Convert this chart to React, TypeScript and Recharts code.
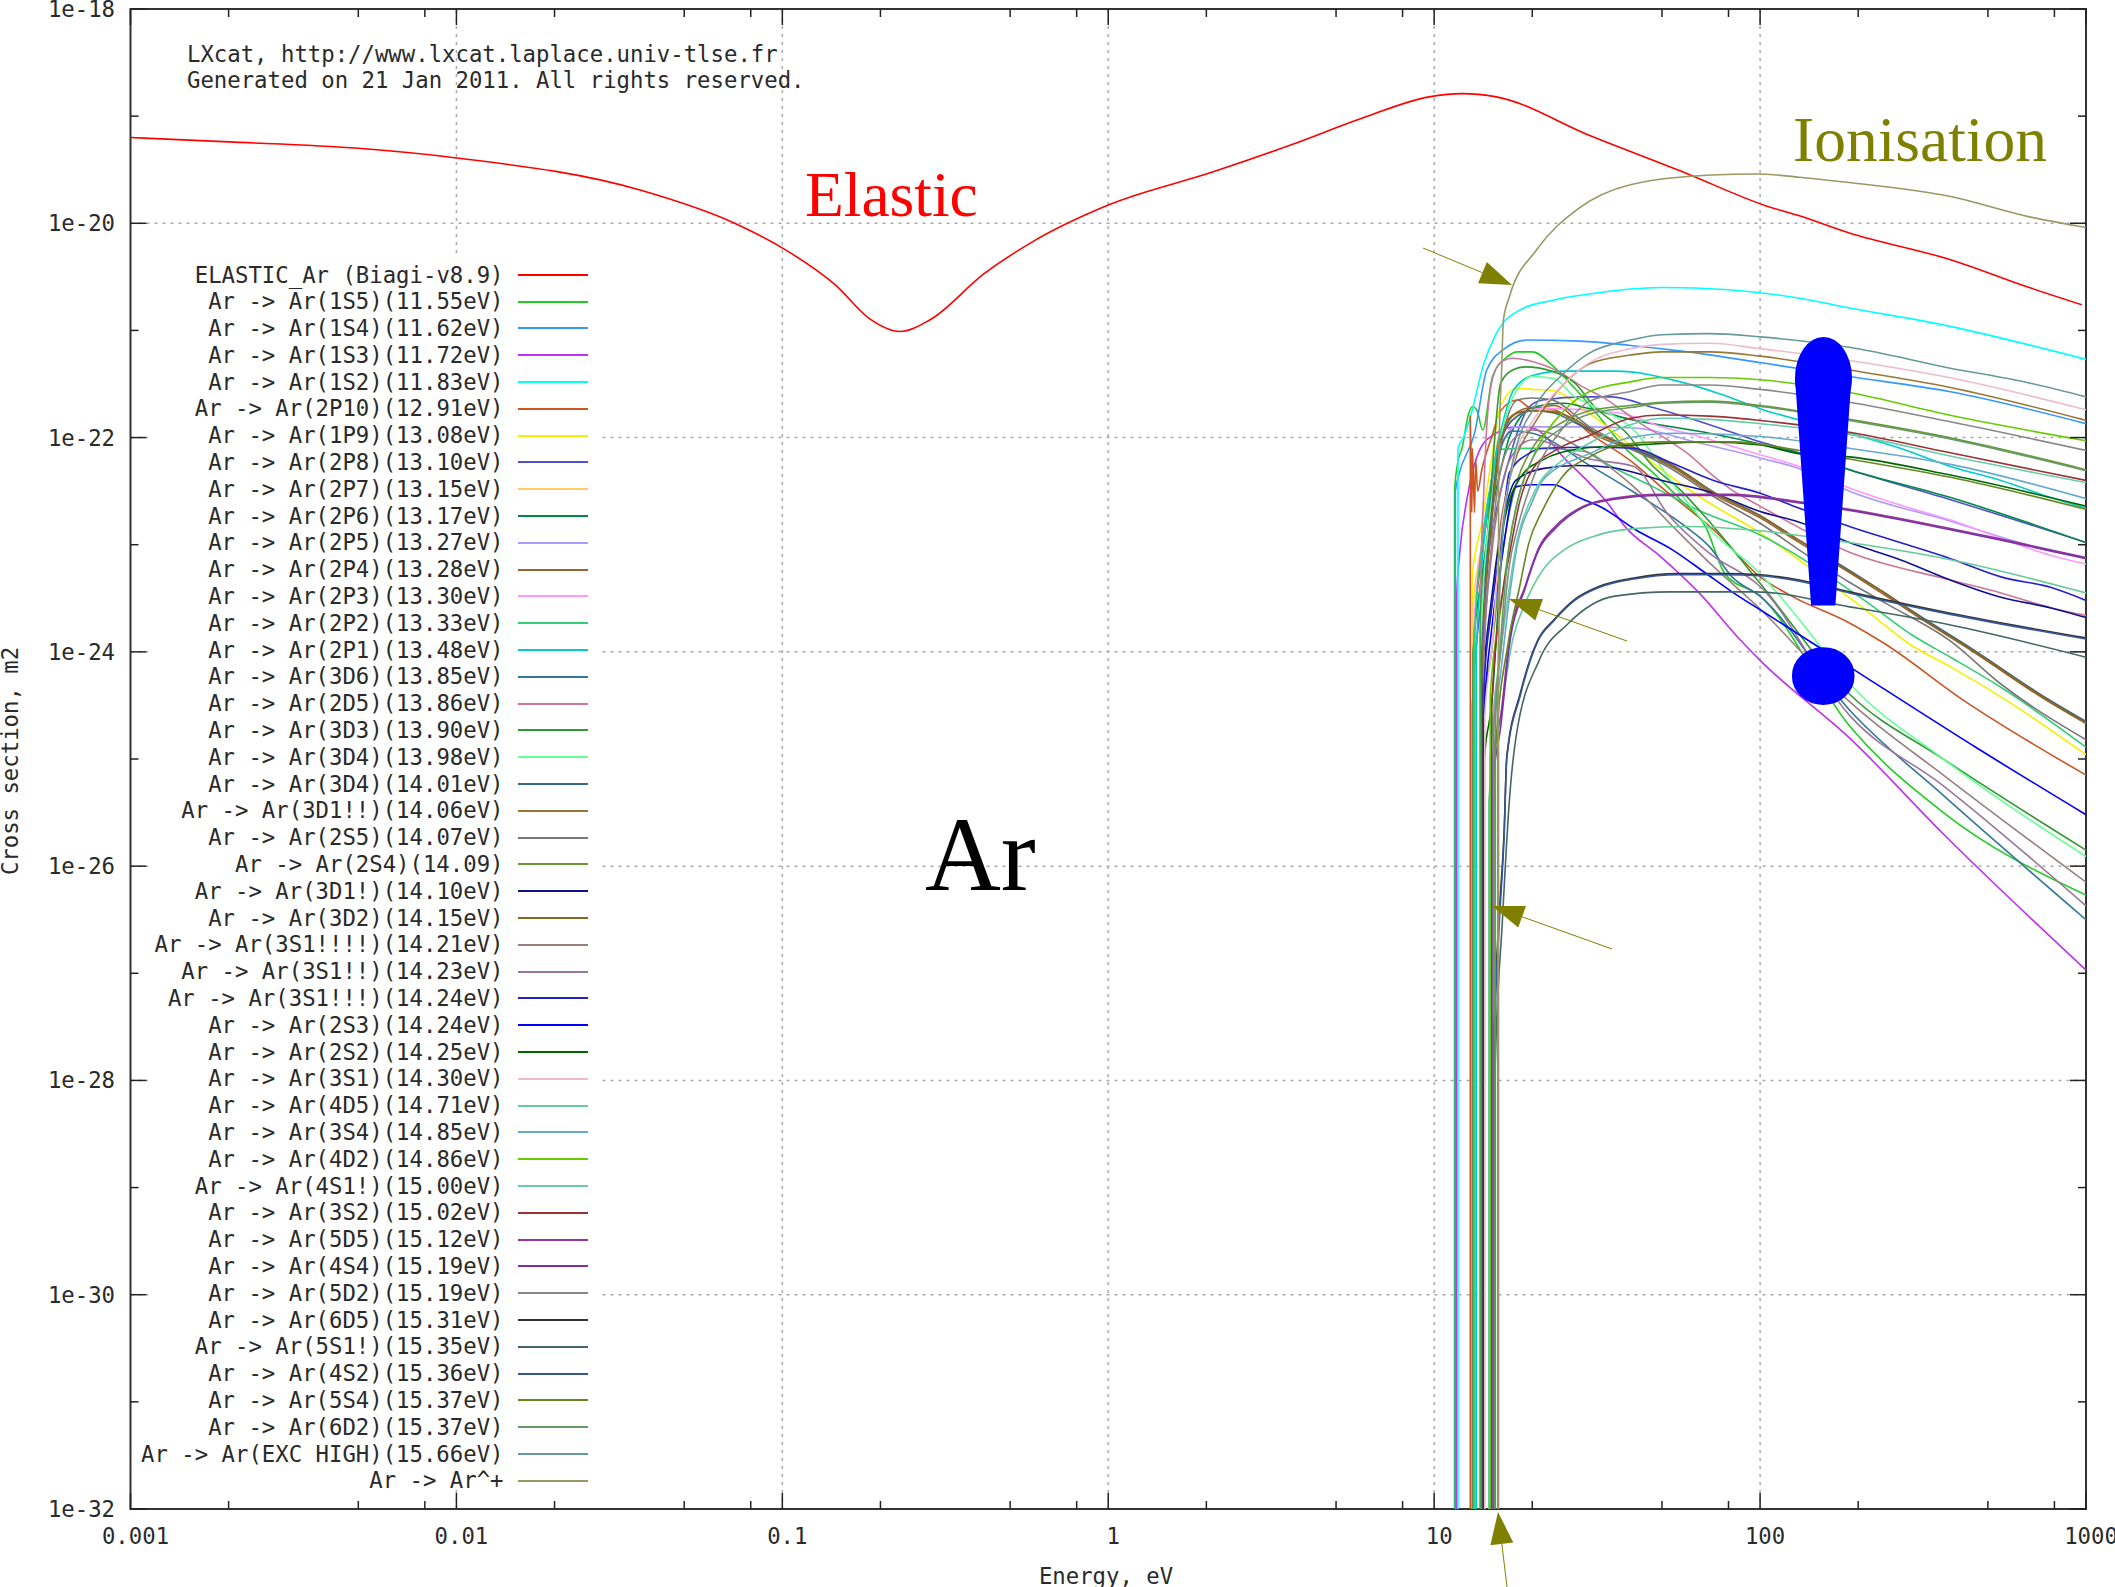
import React from 'react';
import { LineChart, Line, XAxis, YAxis, Legend, ReferenceLine, ReferenceArea } from 'recharts';

type Row = number[]; // [energy eV, log10 of cross section m2]

const MONO = '"DejaVu Sans Mono", monospace';
const SERIF = '"Liberation Serif", serif';
const TEXT = '#2a2a2a';
const MONO_SIZE = 22.3;

const xTicks = [0.001, 0.002, 0.005, 0.008, 0.01, 0.02, 0.05, 0.08, 0.1, 0.2, 0.5, 0.8, 1, 2, 5, 8, 10, 20, 50, 80, 100, 200, 500, 800, 1000];
const xMajor = [0.001, 0.01, 0.1, 1, 10, 100, 1000];
const yTicks = [1e-32, 1e-31, 1e-30, 1e-29, 1e-28, 1e-27, 1e-26, 1e-25, 1e-24, 1e-23, 1e-22, 1e-21, 1e-20, 1e-19, 1e-18];
const yMajor = [1e-32, 1e-30, 1e-28, 1e-26, 1e-24, 1e-22, 1e-20, 1e-18];

const elastic: Row[] = [[0.001, -19.2], [0.002, -19.24], [0.005, -19.3], [0.01, -19.39], [0.0366, -19.69], [0.0714, -20], [0.1026, -20.25], [0.146, -20.58], [0.185, -20.89], [0.23, -21.01], [0.284, -20.9], [0.416, -20.47], [0.58, -20.18], [1, -19.83], [2.1, -19.52], [3.7, -19.26], [6, -19.02], [9.66, -18.82], [12.2, -18.79], [15.5, -18.82], [30, -19.18], [59, -19.53], [105, -19.84], [132, -19.93], [188, -20.09], [384, -20.34], [670, -20.6], [970, -20.76]];
const s1S5: Row[] = [[11.55, -32], [11.55, -22.5], [11.8, -22.24], [12.2, -22.09], [12.7, -21.8], [13.1, -21.71], [13.5, -21.74], [14.1, -21.93], [15.1, -21.43], [16.7, -21.25], [18, -21.2], [20, -21.2], [23.3, -21.34], [27, -21.54], [31.4, -21.77], [38, -22.08], [47, -22.33], [57, -22.58], [68, -22.83], [78, -23.27], [100, -23.48], [189, -24.7], [365, -25.5], [1000, -26.27]];
const s1S4: Row[] = [[11.62, -32], [11.62, -22.5], [11.9, -22.35], [13.3, -21.96], [14.5, -21.37], [16.3, -21.18], [19.2, -21.09], [28, -21.1], [40, -21.14], [60, -21.2], [100, -21.3], [188, -21.43], [380, -21.57], [1000, -21.87]];
const s1S3: Row[] = [[11.72, -32], [11.72, -23.5], [12, -23.05], [12.6, -22.58], [14.5, -22.02], [17.9, -21.9], [20, -21.91], [25.4, -22.21], [33.8, -22.6], [39, -22.85], [49, -23.1], [65, -23.45], [87, -23.89], [100, -24.08], [189, -24.81], [365, -25.7], [1000, -26.97]];
const s1S2: Row[] = [[11.83, -32], [11.83, -22.1], [12.3, -22], [13.1, -21.74], [14.1, -21.34], [15.5, -21.03], [18.3, -20.81], [23, -20.72], [30, -20.66], [50, -20.6], [80, -20.62], [132, -20.7], [188, -20.79], [380, -20.96], [600, -21.1], [1000, -21.27]];
const s2P10: Row[] = [[12.91, -32], [12.91, -21.8], [13.05, -22.7], [13.1, -22.1], [13.3, -22.7], [13.4, -22.2], [13.6, -22.5], [14, -22.3], [15, -22], [16, -21.75], [18, -21.65], [20, -21.73], [23.3, -21.7], [30, -21.96], [41, -22.24], [51, -22.49], [60, -22.66], [72, -22.86], [100, -23.3], [125, -23.48], [188, -23.73], [240, -23.92], [420, -24.45], [1000, -25.15]];
const s1P9: Row[] = [[13.08, -32], [13.08, -23.3], [14, -22.8], [15, -22.2], [16, -21.7], [18, -21.54], [20, -21.55], [23.3, -21.56], [28, -21.71], [36, -21.96], [47, -22.24], [65, -22.55], [100, -22.89], [205, -23.58], [295, -23.95], [384, -24.14], [548, -24.42], [1000, -24.96]];
const s2P8: Row[] = [[13.1, -32], [13.1, -24.5], [14, -23.5], [15, -22.9], [16, -22.5], [17, -22.2], [18, -21.95], [19.5, -21.72], [21.5, -21.65], [29, -21.62], [35, -21.62], [47, -21.72], [75, -21.91], [100, -22.04], [125, -22.12], [188, -22.3], [384, -22.58], [1000, -22.98]];
const s2P7: Row[] = [[13.15, -32], [13.15, -23.6], [14, -23], [15, -22.4], [15.9, -21.95], [18, -21.78], [20, -21.74], [23.3, -21.75], [27, -21.84], [32, -21.98], [41, -22.1], [54, -22.27], [72, -22.52], [100, -22.74], [132, -22.97], [188, -23.25], [244, -23.47], [311, -23.68], [446, -23.98], [763, -24.45], [1000, -24.66]];
const s2P6: Row[] = [[13.17, -32], [13.17, -24], [14, -23.3], [15, -22.7], [16, -22.3], [17, -22], [18, -21.85], [20, -21.72], [25, -21.68], [30, -21.73], [40, -21.83], [70, -21.96], [100, -22.06], [132, -22.15], [188, -22.3], [384, -22.56], [1000, -22.98]];
const s2P5: Row[] = [[13.27, -32], [13.27, -23.8], [14, -23.1], [15, -22.5], [16, -22.1], [17.8, -21.9], [20, -21.9], [27, -21.9], [41, -21.91], [65, -22.05], [100, -22.19], [132, -22.29], [188, -22.5], [384, -22.78], [782, -23.06], [1000, -23.12]];
const s2P4: Row[] = [[13.28, -32], [13.28, -23.8], [14, -23.1], [15, -22.45], [15.9, -21.98], [18, -21.76], [20, -21.72], [23.3, -21.74], [27, -21.85], [32, -21.99], [41, -22.12], [54, -22.28], [72, -22.53], [100, -22.75], [132, -22.98], [188, -23.26], [244, -23.48], [311, -23.69], [446, -23.99], [763, -24.46], [1000, -24.67]];
const s2P3: Row[] = [[13.3, -32], [13.3, -23.7], [14, -23], [15, -22.4], [16, -22.05], [18, -21.8], [21.5, -21.73], [37, -21.77], [50, -21.9], [65, -21.99], [100, -22.16], [132, -22.27], [188, -22.47], [269, -22.63], [384, -22.77], [548, -22.94], [782, -23.1], [1000, -23.18]];
const s2P2: Row[] = [[13.33, -32], [13.33, -23.8], [14, -23], [15, -22.4], [16, -22.11], [20, -22.1], [29, -22.13], [35, -22.27], [47, -22.46], [65, -22.68], [100, -22.91], [205, -23.5], [295, -23.85], [384, -24.05], [548, -24.33], [1000, -24.89]];
const s2P1: Row[] = [[13.48, -32], [13.48, -24], [14, -23.2], [15, -22.4], [16, -21.95], [17.5, -21.56], [20, -21.42], [25, -21.38], [36, -21.38], [57, -21.48], [75, -21.59], [100, -21.73], [188, -21.96], [269, -22.1], [384, -22.27], [548, -22.4], [782, -22.56], [1000, -22.66]];
const s3D6: Row[] = [[13.85, -32], [13.85, -23.8], [14.5, -23], [15.5, -22.3], [16.5, -22], [17.4, -21.94], [20, -21.96], [30, -22.26], [41.5, -22.52], [59, -22.83], [70, -23.02], [82, -23.3], [100, -23.48], [189, -24.55], [365, -25.34], [1000, -26.5]];
const s2D5: Row[] = [[13.86, -32], [13.86, -23.5], [14.2, -22.5], [14.5, -21.9], [15.1, -21.45], [16, -21.3], [17.4, -21.26], [20, -21.29], [24, -21.38], [28, -21.51], [34, -21.65], [43, -21.87], [52, -22.02], [60, -22.15], [72, -22.36], [82, -22.49], [100, -22.64], [188, -23.07], [384, -23.33], [548, -23.45], [782, -23.59], [1000, -23.66]];
const s3D3: Row[] = [[13.9, -32], [13.9, -23.6], [14.5, -23], [15, -22.4], [16, -21.49], [17.4, -21.37], [19, -21.34], [23, -21.38], [27, -21.49], [31, -21.71], [39, -21.96], [46, -22.24], [57, -22.49], [72, -22.83], [100, -23.36], [189, -24.4], [365, -25], [1000, -25.85]];
const s3D4a: Row[] = [[13.98, -32], [13.98, -23.7], [15, -22.6], [16, -22], [17, -21.7], [18, -21.55], [20, -21.43], [23.3, -21.45], [27, -21.62], [31, -21.71], [41, -21.93], [54, -22.43], [72, -22.89], [100, -23.27], [132, -23.7], [189, -24.3], [365, -25], [1000, -25.91]];
const s3D4b: Row[] = [[14.01, -32], [14.01, -24], [15, -22.7], [15.9, -22.05], [18, -21.8], [20, -21.75], [23.3, -21.77], [27, -21.86], [32, -21.97], [41, -22.11], [54, -22.26], [72, -22.51], [100, -22.73], [132, -22.96], [188, -23.24], [244, -23.46], [311, -23.67], [446, -23.97], [763, -24.44], [1000, -24.65]];
const s3D1aa: Row[] = [[14.06, -32], [14.06, -24.4], [15, -23.6], [16, -22.8], [17, -22.4], [18, -22.15], [20, -21.9], [25, -21.5], [30, -21.31], [40, -21.23], [50, -21.2], [70, -21.2], [100, -21.24], [188, -21.37], [380, -21.53], [1000, -21.84]];
const s2S5: Row[] = [[14.07, -32], [14.07, -24], [15, -22.8], [16, -22.1], [18, -21.65], [20, -21.63], [23, -21.65], [30, -21.9], [40, -22.1], [54, -22.3], [72, -22.55], [100, -22.8], [132, -23.05], [188, -23.35], [244, -23.55], [384, -23.9], [548, -24.3], [1000, -24.82]];
const s2S4: Row[] = [[14.09, -32], [14.09, -24.6], [15, -24], [16, -23.2], [17, -22.7], [18, -22.4], [20, -22.1], [25, -21.85], [30, -21.75], [40, -21.7], [50, -21.67], [70, -21.66], [100, -21.7], [188, -21.83], [380, -22], [1000, -22.3]];
const s3D1a: Row[] = [[14.1, -32], [14.1, -24.4], [15, -23.5], [16, -22.9], [17.8, -22.4], [21.5, -22.29], [27.5, -22.26], [35, -22.28], [50, -22.4], [72, -22.52], [100, -22.69], [132, -22.79], [188, -22.98], [269, -23.14], [384, -23.33], [548, -23.49], [782, -23.59], [1000, -23.68]];
const s3D2: Row[] = [[14.15, -32], [14.15, -24], [15, -22.8], [15.9, -22.05], [18, -21.77], [20, -21.75], [23.3, -21.76], [27, -21.83], [32, -21.97], [41, -22.09], [54, -22.26], [72, -22.51], [100, -22.73], [132, -22.96], [188, -23.25], [244, -23.46], [311, -23.68], [446, -23.98], [763, -24.45], [1000, -24.66]];
const s3S1a4: Row[] = [[14.21, -32], [14.21, -24], [15, -23], [16, -22.3], [18, -21.98], [20, -21.93], [30, -22.15], [41, -22.46], [54, -22.83], [70, -23.17], [100, -23.6], [189, -24.47], [365, -25.15], [1000, -26.15]];
const s3S1a2: Row[] = [[14.23, -32], [14.23, -24], [15, -23.1], [16, -22.5], [18, -22.1], [20, -22.02], [30, -22.2], [41, -22.27], [52, -22.71], [70, -23.08], [100, -23.39], [189, -24.6], [365, -25.25], [1000, -26.37]];
const s3S1a3: Row[] = [[14.24, -32], [14.24, -24.3], [15, -23.6], [16, -23], [17, -22.33], [19.5, -22.15], [21.5, -22.1], [30, -22.09], [41, -22.1], [52, -22.22], [72, -22.4], [100, -22.52], [132, -22.66], [188, -22.83], [269, -22.98], [384, -23.13], [548, -23.3], [782, -23.4], [1000, -23.52]];
const s2S3: Row[] = [[14.24, -32], [14.24, -24.6], [15, -23.8], [16, -23.2], [17.8, -22.46], [20, -22.44], [23.3, -22.44], [27.4, -22.55], [33, -22.66], [41.5, -22.86], [54, -23.05], [67, -23.25], [82, -23.44], [104, -23.64], [132, -23.84], [195, -24.17], [464, -24.9], [1000, -25.52]];
const s2S2: Row[] = [[14.25, -32], [14.25, -25], [15, -24.5], [16, -23.2], [16.3, -22.83], [18.5, -22.36], [21.5, -22.21], [28.5, -22.1], [41, -22.07], [70, -22.04], [100, -22.07], [132, -22.15], [188, -22.18], [384, -22.35], [1000, -22.64]];
const s3S1: Row[] = [[14.3, -32], [14.3, -24.6], [15, -24], [16, -22.9], [17, -22.4], [18, -22.1], [20, -21.85], [25, -21.5], [30, -21.3], [40, -21.17], [50, -21.13], [70, -21.12], [100, -21.17], [188, -21.28], [380, -21.44], [1000, -21.74]];
const s4D5: Row[] = [[14.71, -32], [14.71, -25.4], [16, -24.6], [17.4, -23.89], [19, -23.55], [21.5, -23.24], [25, -23.05], [31, -22.92], [41, -22.85], [60, -22.83], [100, -22.87], [188, -22.98], [384, -23.14], [1000, -23.45]];
const s3S4: Row[] = [[14.85, -32], [14.85, -25], [16, -24.2], [17, -23.5], [18, -23], [20, -22.6], [21.5, -22.4], [30, -22.15], [40, -22], [55, -21.96], [100, -21.99], [188, -22.1], [384, -22.25], [1000, -22.57]];
const s4D2: Row[] = [[14.86, -32], [14.86, -24.4], [16, -23.6], [17, -23], [18, -22.6], [20, -22.2], [25, -21.75], [30, -21.57], [40, -21.48], [50, -21.44], [70, -21.44], [100, -21.46], [188, -21.58], [380, -21.79], [1000, -22.03]];
const s4S1: Row[] = [[15, -32], [15, -24.8], [16, -24], [17, -23.4], [18, -22.95], [20, -22.55], [25, -22.2], [30, -22.05], [40, -21.88], [50, -21.82], [70, -21.83], [100, -21.87], [188, -21.97], [380, -22.17], [1000, -22.42]];
const s3S2: Row[] = [[15.02, -32], [15.02, -24.5], [16.3, -23.4], [17, -23.1], [18.3, -22.6], [20, -22.3], [23.5, -22.12], [30, -21.98], [40, -21.82], [50, -21.79], [70, -21.8], [100, -21.84], [188, -21.95], [380, -22.14], [1000, -22.4]];
const s5D5: Row[] = [[15.12, -32], [15.12, -25], [16, -24.6], [17, -23.89], [19, -23.39], [21, -23.02], [23.5, -22.83], [28.7, -22.64], [35, -22.57], [50, -22.53], [82, -22.53], [132, -22.6], [188, -22.67], [384, -22.85], [1000, -23.12]];
const s4S4: Row[] = [[15.19, -32], [15.19, -25.2], [16, -24.7], [17, -23.95], [19, -23.41], [21, -23.04], [23.5, -22.85], [28.7, -22.65], [35, -22.58], [50, -22.54], [82, -22.54], [132, -22.61], [188, -22.68], [384, -22.86], [1000, -23.13]];
const s5D2: Row[] = [[15.19, -32], [15.19, -24.8], [16, -24], [17, -23.2], [18, -22.85], [20, -22.4], [25, -21.9], [30, -21.66], [40, -21.57], [50, -21.51], [70, -21.51], [100, -21.55], [188, -21.67], [380, -21.85], [1000, -22.12]];
const s6D5: Row[] = [[15.31, -32], [15.31, -27.5], [15.8, -26.5], [16.4, -25.66], [16.7, -24.98], [18.4, -24.38], [20.8, -23.89], [23.3, -23.7], [27, -23.51], [32, -23.39], [41, -23.31], [56, -23.27], [78, -23.27], [100, -23.28], [132, -23.33], [188, -23.44], [384, -23.64], [1000, -23.87]];
const s5S1: Row[] = [[15.35, -32], [15.35, -28], [16.2, -26.5], [17, -25.4], [17.8, -24.81], [21, -24.08], [25.7, -23.74], [35.8, -23.48], [53, -23.44], [97, -23.44], [188, -23.58], [384, -23.75], [1000, -24.05]];
const s4S2: Row[] = [[15.36, -32], [15.36, -27.5], [15.8, -26.6], [16.4, -25.7], [16.7, -25], [18.4, -24.4], [20.8, -23.9], [23.3, -23.71], [27, -23.52], [32, -23.4], [41, -23.32], [56, -23.28], [78, -23.28], [100, -23.29], [132, -23.34], [188, -23.45], [384, -23.65], [1000, -23.88]];
const s5S4: Row[] = [[15.37, -32], [15.37, -25], [16.9, -23.9], [18.3, -23.39], [19.5, -22.99], [21.5, -22.68], [24.8, -22.36], [30, -22.18], [36.8, -22.07], [50, -22.04], [82, -22.04], [132, -22.12], [188, -22.2], [384, -22.37], [1000, -22.67]];
const s6D2: Row[] = [[15.37, -32], [15.37, -24.8], [16, -23.9], [17, -23], [18, -22.6], [20, -22.2], [25, -21.9], [30, -21.78], [40, -21.72], [50, -21.68], [70, -21.67], [100, -21.71], [188, -21.84], [380, -22.01], [1000, -22.31]];
const sExcHigh: Row[] = [[15.66, -32], [15.66, -24.6], [16, -23.2], [17, -22.4], [18, -22.05], [20, -21.75], [25, -21.4], [30, -21.21], [40, -21.09], [50, -21.04], [70, -21.03], [100, -21.06], [190, -21.16], [380, -21.35], [670, -21.49], [1000, -21.62]];
const sIon: Row[] = [[15.76, -32], [15.76, -22.4], [15.9, -21.8], [16.1, -21.39], [16.3, -20.91], [17, -20.69], [20.6, -20.25], [27.5, -19.87], [40, -19.64], [70.8, -19.55], [98, -19.54], [132, -19.57], [188, -19.62], [384, -19.75], [670, -19.94], [1000, -20.04]];

const names = ['ELASTIC_Ar (Biagi-v8.9)', 'Ar -> Ar(1S5)(11.55eV)', 'Ar -> Ar(1S4)(11.62eV)', 'Ar -> Ar(1S3)(11.72eV)', 'Ar -> Ar(1S2)(11.83eV)', 'Ar -> Ar(2P10)(12.91eV)', 'Ar -> Ar(1P9)(13.08eV)', 'Ar -> Ar(2P8)(13.10eV)', 'Ar -> Ar(2P7)(13.15eV)', 'Ar -> Ar(2P6)(13.17eV)', 'Ar -> Ar(2P5)(13.27eV)', 'Ar -> Ar(2P4)(13.28eV)', 'Ar -> Ar(2P3)(13.30eV)', 'Ar -> Ar(2P2)(13.33eV)', 'Ar -> Ar(2P1)(13.48eV)', 'Ar -> Ar(3D6)(13.85eV)', 'Ar -> Ar(2D5)(13.86eV)', 'Ar -> Ar(3D3)(13.90eV)', 'Ar -> Ar(3D4)(13.98eV)', 'Ar -> Ar(3D4)(14.01eV)', 'Ar -> Ar(3D1!!)(14.06eV)', 'Ar -> Ar(2S5)(14.07eV)', 'Ar -> Ar(2S4)(14.09)', 'Ar -> Ar(3D1!)(14.10eV)', 'Ar -> Ar(3D2)(14.15eV)', 'Ar -> Ar(3S1!!!!)(14.21eV)', 'Ar -> Ar(3S1!!)(14.23eV)', 'Ar -> Ar(3S1!!!)(14.24eV)', 'Ar -> Ar(2S3)(14.24eV)', 'Ar -> Ar(2S2)(14.25eV)', 'Ar -> Ar(3S1)(14.30eV)', 'Ar -> Ar(4D5)(14.71eV)', 'Ar -> Ar(3S4)(14.85eV)', 'Ar -> Ar(4D2)(14.86eV)', 'Ar -> Ar(4S1!)(15.00eV)', 'Ar -> Ar(3S2)(15.02eV)', 'Ar -> Ar(5D5)(15.12eV)', 'Ar -> Ar(4S4)(15.19eV)', 'Ar -> Ar(5D2)(15.19eV)', 'Ar -> Ar(6D5)(15.31eV)', 'Ar -> Ar(5S1!)(15.35eV)', 'Ar -> Ar(4S2)(15.36eV)', 'Ar -> Ar(5S4)(15.37eV)', 'Ar -> Ar(6D2)(15.37eV)', 'Ar -> Ar(EXC HIGH)(15.66eV)', 'Ar -> Ar^+'];
const colors = ['#ff0000', '#22cc22', '#3399ff', '#c030f0', '#00ffff', '#cc5522', '#f5f000', '#5050cc', '#ffcc66', '#008844', '#aa99ff', '#996633', '#ff99ff', '#33cc77', '#00cccc', '#337799', '#cc7799', '#339933', '#66ff99', '#336688', '#997733', '#777777', '#669933', '#101090', '#886622', '#998080', '#997799', '#2222cc', '#0000ff', '#006600', '#eebbcc', '#66cc99', '#66aacc', '#66cc00', '#66ccaa', '#993333', '#993399', '#7733aa', '#888888', '#333333', '#446666', '#335599', '#668822', '#669966', '#669999', '#999966'];
const rows = [elastic, s1S5, s1S4, s1S3, s1S2, s2P10, s1P9, s2P8, s2P7, s2P6, s2P5, s2P4, s2P3, s2P2, s2P1, s3D6, s2D5, s3D3, s3D4a, s3D4b, s3D1aa, s2S5, s2S4, s3D1a, s3D2, s3S1a4, s3S1a2, s3S1a3, s2S3, s2S2, s3S1, s4D5, s3S4, s4D2, s4S1, s3S2, s5D5, s4S4, s5D2, s6D5, s5S1, s4S2, s5S4, s6D2, sExcHigh, sIon];

const toPoints = (list: Row[]) => list.map(([x, logS]) => ({ x, y: Math.pow(10, logS) }));

const PLOT = { left: 130.5, right: 2086, top: 9, bottom: 1509 };
const isMajor = (list: number[], v: number) => list.some(m => Math.abs(m / v - 1) < 1e-6);

const XTick = ({ x, payload }: any) => {
  const major = isMajor(xMajor, payload.value);
  const len = major ? 16 : 8;
  return (
    <g>
      <line x1={x} x2={x} y1={PLOT.bottom} y2={PLOT.bottom - len} stroke="#222" strokeWidth={1.5} />
      <line x1={x} x2={x} y1={PLOT.top} y2={PLOT.top + len} stroke="#222" strokeWidth={1.5} />
      {major && (
        <text x={x + 5} y={1544} textAnchor="middle" fontFamily={MONO} fontSize={MONO_SIZE} fill={TEXT}>{String(payload.value)}</text>
      )}
    </g>
  );
};

const YTick = ({ y, payload }: any) => {
  const major = isMajor(yMajor, payload.value);
  const len = major ? 16 : 8;
  return (
    <g>
      <line x1={PLOT.left} x2={PLOT.left + len} y1={y} y2={y} stroke="#222" strokeWidth={1.5} />
      <line x1={PLOT.right} x2={PLOT.right - len} y1={y} y2={y} stroke="#222" strokeWidth={1.5} />
      {major && (
        <text x={115} y={y + 8} textAnchor="end" fontFamily={MONO} fontSize={MONO_SIZE} fill={TEXT}>{payload.value.toExponential(0)}</text>
      )}
    </g>
  );
};

const KeyBox = ({ payload }: any) => (
  <div style={{ width: 452, height: 1232, background: '#fff', paddingTop: 3.5, boxSizing: 'border-box' }}>
    {(payload || []).map((item: any) => (
      <div key={item.value} style={{ position: 'relative', height: 26.8 }}>
        <span style={{ position: 'absolute', right: 96.5, top: 0, lineHeight: '26.8px', fontFamily: MONO, fontSize: MONO_SIZE, color: TEXT, whiteSpace: 'pre' }}>{item.value}</span>
        <span style={{ position: 'absolute', left: 369.5, width: 70, top: 12.4, height: 2, background: item.color }} />
      </div>
    ))}
  </div>
);

// olive pointers drawn over the curves
const Pointer = ({ from, tip }: { from: number[]; tip: number[] }) => {
  const dx = tip[0] - from[0];
  const dy = tip[1] - from[1];
  const d = Math.hypot(dx, dy);
  const ux = dx / d;
  const uy = dy / d;
  const bx = tip[0] - ux * 32;
  const by = tip[1] - uy * 32;
  const pts = `${tip[0]},${tip[1]} ${bx - uy * 11.5},${by + ux * 11.5} ${bx + uy * 11.5},${by - ux * 11.5}`;
  return (
    <g>
      <line x1={from[0]} y1={from[1]} x2={bx} y2={by} stroke="#808000" strokeWidth={1} />
      <polygon points={pts} fill="#808000" />
    </g>
  );
};

export default function App() {
  return (
    <div style={{ position: 'absolute', left: 0, top: 0, width: 2115, height: 1587, background: '#fff', overflow: 'hidden' }}>
      <LineChart width={2115} height={1587} margin={{ top: 9, right: 29, bottom: 0, left: 0 }}>
        <XAxis dataKey="x" type="number" scale="log" domain={[0.001, 1000]} ticks={xTicks} interval={0} height={78} tick={<XTick />} tickLine={false} axisLine={false} tickSize={0} tickMargin={0} allowDataOverflow />
        <YAxis dataKey="y" type="number" scale="log" domain={[1e-32, 1e-18]} ticks={yTicks} interval={0} width={130.5} tick={<YTick />} tickLine={false} axisLine={false} tickSize={0} tickMargin={0} allowDataOverflow />
        {xMajor.slice(1, -1).map(v => (
          <ReferenceLine key={v} x={v} stroke="#aaa" strokeWidth={1.5} strokeDasharray="3 5" zIndex={-50} />
        ))}
        {yMajor.slice(1, -1).map(v => (
          <ReferenceLine key={v} y={v} stroke="#aaa" strokeWidth={1.5} strokeDasharray="3 5" zIndex={-50} />
        ))}
        <ReferenceArea x1={0.001} x2={1000} y1={1e-32} y2={1e-18} fill="none" stroke="#333" strokeWidth={2} />
        <Legend content={<KeyBox />} itemSorter={null} layout="horizontal" verticalAlign="middle" wrapperStyle={{ left: 148, top: 258, width: 452, height: 1232, margin: 0 }} />
        {names.map((name, i) => (
          <Line key={name + i} name={name} data={toPoints(rows[i])} dataKey="y" type="monotoneX" stroke={colors[i]} strokeWidth={1.6} dot={false} isAnimationActive={false} />
        ))}
      </LineChart>
      {/* texts and pointers laid over the chart */}
      <svg width={2115} height={1587} style={{ position: 'absolute', left: 0, top: 0, pointerEvents: 'none' }}>
        <text x={187} y={62} fontFamily={MONO} fontSize={MONO_SIZE} fill={TEXT}>LXcat, http://www.lxcat.laplace.univ-tlse.fr</text>
        <text x={187} y={88} fontFamily={MONO} fontSize={MONO_SIZE} fill={TEXT}>Generated on 21 Jan 2011. All rights reserved.</text>
        <text x={1106} y={1584} textAnchor="middle" fontFamily={MONO} fontSize={MONO_SIZE} fill={TEXT}>Energy, eV</text>
        <text transform="translate(18 761) rotate(-90)" textAnchor="middle" fontFamily={MONO} fontSize={MONO_SIZE} fill={TEXT}>Cross section, m2</text>
        <text x={805} y={216} fontFamily={SERIF} fontSize={63.5} fill="#ff0000">Elastic</text>
        <text x={1793} y={161} fontFamily={SERIF} fontSize={63.5} fill="#808000">Ionisation</text>
        <text x={925} y={890} fontFamily={SERIF} fontSize={105} fill="#000">Ar</text>
        <ellipse cx={1823.5} cy={378} rx={28.5} ry={41} fill="#0000ff" />
        <text transform="translate(1823.5 698) scale(1 0.92)" textAnchor="middle" fontFamily={SERIF} fontSize={530} fill="#0000ff">!</text>
        <Pointer from={[1423, 248]} tip={[1512, 285]} />
        <Pointer from={[1627, 641]} tip={[1509, 599]} />
        <Pointer from={[1612, 949]} tip={[1492, 906]} />
        <Pointer from={[1507, 1587]} tip={[1498, 1512]} />
      </svg>
    </div>
  );
}
